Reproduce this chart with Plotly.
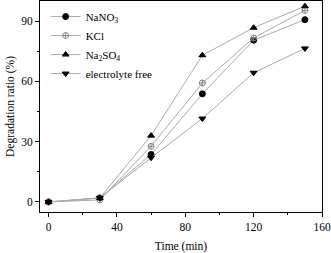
import plotly.graph_objects as go

time_min = [0, 30, 60, 90, 120, 150]
nano3 = [0, 2, 23.6, 53.8, 80.5, 90.7]
kcl = [0, 1, 27.7, 59.2, 81.6, 95.3]
na2so4 = [0, 2, 33, 73, 86.7, 97.4]
free = [0, 2, 22, 41.5, 64.3, 76.4]

series = [
    ("NaNO<sub>3</sub>", nano3, "circle", "black"),
    ("KCl", kcl, "circle-cross-open", "#888888"),
    ("Na<sub>2</sub>SO<sub>4</sub>", na2so4, "triangle-up", "black"),
    ("electrolyte free", free, "triangle-down", "black"),
]

FAM = "Liberation Serif, Times New Roman, serif"

fig = go.Figure()
for name, ys, sym, mc in series:
    fig.add_trace(go.Scatter(
        x=time_min, y=ys, name=name, mode="lines+markers",
        line=dict(color="#aaaaaa", width=1),
        marker=dict(symbol=sym, size=6, color=mc, line=dict(color=mc, width=1)),
    ))

font = dict(family=FAM, size=11.5, color="black")
fig.update_layout(
    width=331, height=253,
    margin=dict(l=40, r=9, t=1, b=41, autoexpand=False),
    paper_bgcolor="white", plot_bgcolor="white",
    font=font,
    showlegend=True,
    legend=dict(x=0.02, y=0.995, xanchor="left", yanchor="top",
                bgcolor="rgba(0,0,0,0)", font=dict(family=FAM, size=11, color="black"),
                tracegroupgap=0, itemwidth=30),
)
fig.update_xaxes(
    range=[-5, 160], tickvals=[0, 40, 80, 120, 160],
    tickfont=dict(family=FAM, size=11.5, color="black"),
    showgrid=False, zeroline=False, automargin=False,
    showline=True, linecolor="black", linewidth=1, mirror=True,
    ticks="outside", ticklen=4, tickcolor="black",
    minor=dict(tickvals=[20, 60, 100, 140], ticks="outside", ticklen=2, tickcolor="black"),
    title=dict(text="Time (min)", standoff=10, font=dict(family=FAM, size=11.5, color="black")),
)
fig.update_yaxes(
    range=[-5, 100], tickvals=[0, 30, 60, 90],
    tickfont=dict(family=FAM, size=11.5, color="black"),
    showgrid=False, zeroline=False, automargin=False,
    showline=True, linecolor="black", linewidth=1, mirror=True,
    ticks="outside", ticklen=4, tickcolor="black",
    minor=dict(tickvals=[15, 45, 75], ticks="outside", ticklen=2, tickcolor="black"),
    title=dict(text="Degradation ratio (%)", standoff=4, font=dict(family=FAM, size=11.5, color="black")),
)
fig.write_html("out.html", config={"displayModeBar": False},
               post_script="document.body.style.margin='0';document.body.style.overflow='hidden';")
